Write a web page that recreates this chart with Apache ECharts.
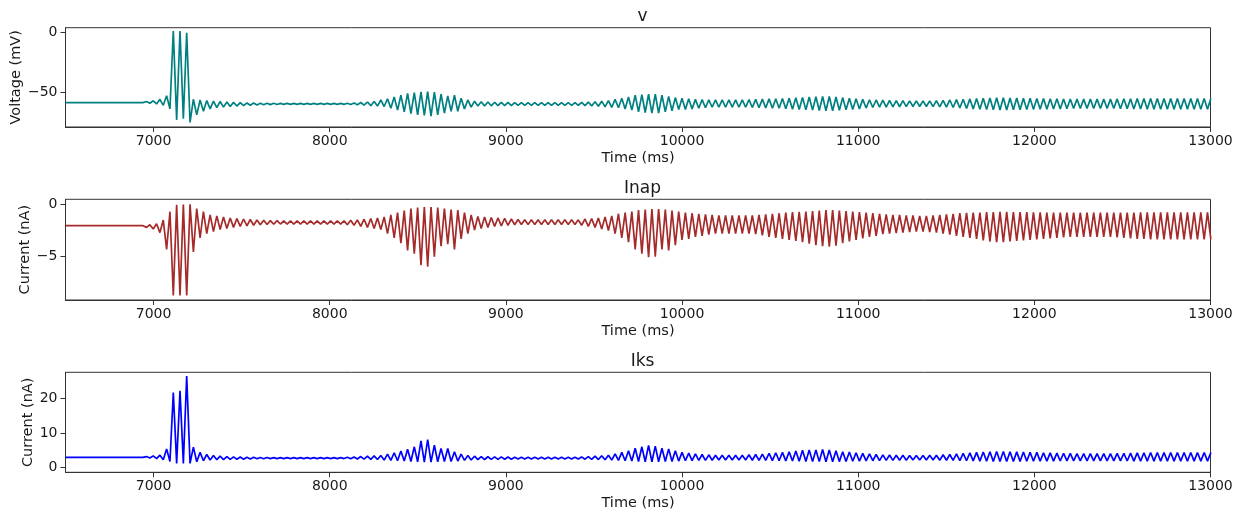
<!DOCTYPE html>
<html>
<head>
<meta charset="utf-8">
<title>v / Inap / Iks</title>
<script src="https://cdn.jsdelivr.net/npm/echarts@6/dist/echarts.min.js"></script>
<style>
  html, body { margin: 0; padding: 0; background: #fff; }
  #main { width: 1247px; height: 514px; }
</style>
</head>
<body>
<div id="main"></div>
<script>
// sample times (ms): baseline, then alternating extrema (~19 ms apart)
var timeMs = [6500, 6940,
  6960,6979,6998,7017,7036,7055,7074,7093,7112,7131,
  7150,7169,7188,7207,7226,7245,7264,7283,7302,7321,
  7340,7359,7378,7397,7416,7435,7454,7473,7492,7511,
  7530,7549,7568,7587,7606,7625,7644,7663,7682,7701,
  7720,7739,7758,7777,7796,7815,7834,7853,7872,7891,
  7910,7929,7948,7967,7986,8005,8024,8043,8062,8081,
  8100,8119,8138,8157,8176,8195,8214,8233,8252,8271,
  8290,8309,8328,8347,8366,8385,8404,8423,8442,8461,
  8480,8499,8518,8537,8556,8575,8594,8613,8632,8651,
  8670,8689,8708,8727,8746,8765,8784,8803,8822,8841,
  8860,8879,8898,8917,8936,8955,8974,8993,9012,9031,
  9050,9069,9088,9107,9126,9145,9164,9183,9202,9221,
  9240,9259,9278,9297,9316,9335,9354,9373,9392,9411,
  9430,9449,9468,9487,9506,9525,9544,9563,9582,9601,
  9620,9639,9658,9677,9696,9715,9734,9753,9772,9791,
  9810,9829,9848,9867,9886,9905,9924,9943,9962,9981,
  10000,10019,10038,10057,10076,10095,10114,10133,10152,10171,
  10190,10209,10228,10247,10266,10285,10304,10323,10342,10361,
  10380,10399,10418,10437,10456,10475,10494,10513,10532,10551,
  10570,10589,10608,10627,10646,10665,10684,10703,10722,10741,
  10760,10779,10798,10817,10836,10855,10874,10893,10912,10931,
  10950,10969,10988,11007,11026,11045,11064,11083,11102,11121,
  11140,11159,11178,11197,11216,11235,11254,11273,11292,11311,
  11330,11349,11368,11387,11406,11425,11444,11463,11482,11501,
  11520,11539,11558,11577,11596,11615,11634,11653,11672,11691,
  11710,11729,11748,11767,11786,11805,11824,11843,11862,11881,
  11900,11919,11938,11957,11976,11995,12014,12033,12052,12071,
  12090,12109,12128,12147,12166,12185,12204,12223,12242,12261,
  12280,12299,12318,12337,12356,12375,12394,12413,12432,12451,
  12470,12489,12508,12527,12546,12565,12584,12603,12622,12641,
  12660,12679,12698,12717,12736,12755,12774,12793,12812,12831,
  12850,12869,12888,12907,12926,12945,12964,12983,13002];

// membrane voltage (mV)
var vData = [-58.7, -58.7,
  -57.8,-59.2,-57.2,-59.8,-56.0,-61.0,-53.0,-64.0,1.4,-73.2,
  1.4,-72.3,0.0,-75.4,-55.9,-69.0,-56.5,-66.0,-57.0,-64.0,
  -57.5,-63.0,-57.8,-62.5,-58.2,-62.0,-58.5,-61.6,-58.7,-61.3,
  -59.0,-60.9,-59.1,-60.7,-59.2,-60.5,-59.3,-60.4,-59.3,-60.3,
  -59.4,-60.2,-59.4,-60.2,-59.4,-60.2,-59.4,-60.2,-59.4,-60.2,
  -59.4,-60.2,-59.4,-60.2,-59.4,-60.2,-59.4,-60.2,-59.4,-60.2,
  -59.3,-60.3,-59.0,-60.6,-58.6,-60.9,-58.2,-61.3,-57.8,-61.6,
  -56.5,-62.0,-55.5,-63.5,-54.0,-65.0,-52.5,-66.5,-51.0,-68.0,
  -50.3,-69.0,-49.6,-69.5,-49.4,-70.0,-50.0,-69.0,-51.5,-67.5,
  -53.0,-66.0,-52.5,-66.0,-55.0,-64.0,-56.5,-62.5,-57.5,-61.5,
  -58.0,-61.5,-58.2,-61.4,-58.4,-61.3,-58.5,-61.2,-58.6,-61.2,
  -58.7,-61.1,-58.7,-61.1,-58.7,-61.1,-58.7,-61.1,-58.7,-61.1,
  -58.7,-61.1,-58.7,-61.1,-58.7,-61.1,-58.7,-61.1,-58.7,-61.1,
  -58.5,-61.3,-58.3,-61.5,-58.0,-61.8,-57.5,-62.3,-57.0,-62.8,
  -56.0,-63.0,-55.0,-64.0,-54.0,-65.0,-52.5,-66.5,-52.0,-67.0,
  -51.7,-67.6,-51.7,-67.5,-52.5,-66.5,-53.5,-65.5,-54.5,-64.5,
  -55.0,-64.5,-55.5,-64.0,-56.0,-63.5,-56.2,-63.0,-56.4,-62.6,
  -56.4,-62.6,-56.4,-62.6,-56.4,-62.6,-56.4,-62.6,-56.4,-62.6,
  -56.2,-62.8,-56.0,-63.0,-55.8,-63.2,-55.6,-63.4,-55.5,-63.5,
  -55.3,-63.8,-55.0,-64.2,-54.7,-64.5,-54.4,-64.8,-54.0,-65.0,
  -53.8,-65.3,-53.6,-65.6,-53.6,-65.6,-54.0,-65.2,-54.5,-64.8,
  -55.0,-64.5,-55.5,-64.0,-56.0,-63.3,-56.3,-62.8,-56.5,-62.5,
  -56.6,-62.5,-56.8,-62.3,-57.0,-62.2,-57.1,-62.1,-57.2,-62.0,
  -57.3,-62.0,-57.3,-62.0,-57.2,-62.1,-57.0,-62.3,-56.8,-62.5,
  -56.5,-62.8,-56.2,-63.2,-55.9,-63.6,-55.6,-64.0,-55.3,-64.3,
  -55.0,-64.6,-54.8,-64.8,-54.7,-64.9,-54.7,-64.9,-54.8,-64.8,
  -54.9,-64.7,-55.0,-64.6,-55.1,-64.4,-55.2,-64.3,-55.3,-64.2,
  -55.4,-64.1,-55.5,-64.0,-55.6,-63.8,-55.7,-63.7,-55.8,-63.6,
  -55.8,-63.6,-55.8,-63.6,-55.8,-63.6,-55.8,-63.6,-55.8,-63.6,
  -55.6,-63.8,-55.5,-63.9,-55.4,-64.0,-55.3,-64.1,-55.3,-64.2,
  -55.2,-64.3,-55.2,-64.3,-55.2,-64.3,-55.2,-64.3,-55.2,-64.3,
  -55.2,-64.3,-55.2,-64.3,-55.2,-64.3,-55.2,-64.3,-55.2];

// persistent sodium current (nA)
var inapData = [-2.04, -2.04,
  -2.2,-1.95,-2.35,-1.85,-2.7,-1.5,-4.3,-0.7,-8.7,-0.05,
  -8.7,-0.03,-8.7,0.0,-4.55,-0.4,-3.2,-0.7,-2.8,-1.0,
  -2.6,-1.1,-2.4,-1.2,-2.3,-1.3,-2.2,-1.35,-2.1,-1.4,
  -2.05,-1.45,-2.0,-1.5,-1.95,-1.52,-1.92,-1.55,-1.9,-1.55,
  -1.88,-1.58,-1.88,-1.58,-1.88,-1.58,-1.88,-1.58,-1.88,-1.58,
  -1.88,-1.58,-1.88,-1.58,-1.88,-1.58,-1.88,-1.58,-1.88,-1.58,
  -1.95,-1.52,-2.0,-1.48,-2.1,-1.42,-2.2,-1.36,-2.3,-1.3,
  -2.4,-1.2,-2.8,-1.0,-3.2,-0.8,-3.7,-0.6,-4.4,-0.4,
  -4.7,-0.3,-5.8,-0.25,-5.95,-0.25,-5.0,-0.3,-4.0,-0.4,
  -3.8,-0.5,-4.3,-0.55,-3.3,-0.8,-2.8,-1.0,-2.45,-1.15,
  -2.3,-1.2,-2.2,-1.25,-2.1,-1.3,-2.05,-1.35,-2.0,-1.4,
  -1.95,-1.45,-1.93,-1.47,-1.92,-1.48,-1.92,-1.48,-1.92,-1.48,
  -1.92,-1.48,-1.92,-1.48,-1.92,-1.48,-1.92,-1.48,-1.92,-1.48,
  -2.0,-1.4,-2.1,-1.35,-2.2,-1.3,-2.35,-1.2,-2.5,-1.1,
  -2.8,-0.9,-3.2,-0.8,-3.6,-0.7,-4.3,-0.55,-4.7,-0.5,
  -5.05,-0.45,-5.0,-0.45,-4.3,-0.5,-4.4,-0.6,-3.9,-0.7,
  -3.4,-0.8,-3.3,-0.85,-3.1,-0.9,-3.0,-0.95,-2.9,-1.0,
  -2.8,-1.05,-2.8,-1.05,-2.8,-1.05,-2.8,-1.05,-2.8,-1.05,
  -2.8,-1.05,-2.85,-1.0,-2.95,-0.95,-3.1,-0.9,-3.2,-0.85,
  -3.3,-0.8,-3.4,-0.75,-3.5,-0.72,-3.6,-0.7,-3.75,-0.65,
  -3.9,-0.6,-4.0,-0.55,-4.05,-0.55,-3.95,-0.6,-3.7,-0.65,
  -3.55,-0.7,-3.4,-0.75,-3.25,-0.8,-3.1,-0.85,-3.0,-0.9,
  -2.85,-0.95,-2.8,-1.0,-2.75,-1.0,-2.7,-1.05,-2.65,-1.05,
  -2.6,-1.1,-2.6,-1.1,-2.65,-1.05,-2.7,-1.0,-2.8,-0.95,
  -2.9,-0.9,-3.0,-0.85,-3.1,-0.82,-3.2,-0.8,-3.3,-0.78,
  -3.45,-0.75,-3.55,-0.73,-3.6,-0.72,-3.6,-0.72,-3.55,-0.73,
  -3.5,-0.74,-3.45,-0.75,-3.4,-0.76,-3.35,-0.77,-3.3,-0.78,
  -3.25,-0.8,-3.2,-0.8,-3.15,-0.8,-3.1,-0.8,-3.1,-0.8,
  -3.1,-0.8,-3.1,-0.8,-3.1,-0.8,-3.1,-0.8,-3.1,-0.8,
  -3.15,-0.8,-3.2,-0.79,-3.25,-0.78,-3.3,-0.77,-3.3,-0.76,
  -3.35,-0.76,-3.35,-0.76,-3.35,-0.76,-3.35,-0.76,-3.35,-0.76,
  -3.35,-0.76,-3.35,-0.76,-3.35,-0.76,-3.35,-0.76,-3.35];

// slow potassium current (nA)
var iksData = [2.97, 2.97,
  3.2,2.8,3.4,2.6,3.6,2.3,5.4,1.8,21.6,1.25,
  22.1,1.25,26.3,1.25,5.9,1.7,4.4,2.0,3.8,2.2,
  3.5,2.3,3.3,2.35,3.2,2.4,3.1,2.45,3.05,2.45,
  3.0,2.5,3.0,2.55,2.95,2.55,2.95,2.6,2.9,2.6,
  2.9,2.62,2.9,2.62,2.9,2.62,2.9,2.62,2.9,2.62,
  2.9,2.62,2.9,2.62,2.9,2.62,2.9,2.62,2.9,2.62,
  3.0,2.55,3.1,2.5,3.2,2.45,3.3,2.4,3.4,2.35,
  3.5,2.2,3.9,2.1,4.3,2.0,4.8,1.9,5.3,1.8,
  6.0,1.7,7.7,1.6,8.1,1.6,6.5,1.7,5.5,1.8,
  5.5,1.8,4.6,1.9,3.9,2.1,3.5,2.2,3.3,2.3,
  3.2,2.35,3.15,2.4,3.1,2.4,3.1,2.45,3.05,2.45,
  3.0,2.5,3.0,2.5,3.0,2.5,3.0,2.5,3.0,2.5,
  3.0,2.5,3.0,2.5,3.0,2.5,3.0,2.5,3.0,2.5,
  3.1,2.45,3.2,2.4,3.3,2.35,3.45,2.3,3.6,2.2,
  4.0,2.1,4.4,2.0,4.9,1.9,5.6,1.8,6.0,1.7,
  6.4,1.7,6.2,1.7,5.6,1.8,5.4,1.8,4.9,1.9,
  4.4,2.0,4.2,2.05,4.0,2.1,3.8,2.1,3.7,2.15,
  3.6,2.2,3.6,2.2,3.6,2.2,3.6,2.2,3.6,2.2,
  3.7,2.15,3.8,2.1,3.9,2.1,4.1,2.05,4.3,2.0,
  4.4,1.95,4.6,1.9,4.8,1.85,5.0,1.8,5.1,1.75,
  5.1,1.75,5.2,1.7,5.1,1.7,4.9,1.75,4.6,1.8,
  4.5,1.85,4.3,1.9,4.1,1.95,3.95,2.0,3.8,2.05,
  3.7,2.1,3.65,2.1,3.6,2.15,3.55,2.15,3.5,2.2,
  3.5,2.2,3.5,2.2,3.55,2.2,3.6,2.15,3.7,2.15,
  3.8,2.1,3.95,2.05,4.1,2.0,4.25,1.95,4.4,1.9,
  4.5,1.85,4.6,1.8,4.65,1.8,4.65,1.8,4.6,1.8,
  4.55,1.82,4.5,1.84,4.45,1.86,4.4,1.88,4.3,1.9,
  4.25,1.9,4.2,1.92,4.15,1.94,4.1,1.95,4.05,1.95,
  4.05,1.95,4.05,1.95,4.05,1.95,4.05,1.95,4.05,1.95,
  4.1,1.94,4.15,1.92,4.2,1.9,4.25,1.9,4.3,1.9,
  4.35,1.88,4.35,1.88,4.35,1.88,4.35,1.88,4.35,1.88,
  4.35,1.88,4.35,1.88,4.35,1.88,4.35,1.88,4.35];

var titles = ['v', 'Inap', 'Iks'];
var yNames = ['Voltage (mV)', 'Current (nA)', 'Current (nA)'];
var yTicks = [[-50, 0], [-5, 0], [0, 10, 20]];
var xTicks = [7000, 8000, 9000, 10000, 11000, 12000, 13000];

var font = 'DejaVu Sans';
var ink = '#1a1a1a';

var myChart = echarts.init(document.getElementById('main'), null, { renderer: 'canvas' });

function pairs(vals) {
  var out = [];
  for (var i = 0; i < vals.length; i++) out.push([timeMs[i], vals[i]]);
  return out;
}

// panel geometry: [top, height, yMin, yMax, nameGap, color, data]
var panels = [
  [27.7, 99.3, -79.2, 4.2, 42, '#008080', vData],
  [199.3, 100.7, -9.13, 0.48, 33, '#a52a2a', inapData],
  [372.3, 100, -1.32, 27.4, 30, '#0000ff', iksData]
];

var option = {
  animation: false,
  backgroundColor: '#fff',
  title: [], grid: [], xAxis: [], yAxis: [], series: []
};

panels.forEach(function (p, k) {
  option.title.push({
    text: titles[k], left: 637.5, top: p[0] - 24.5, textAlign: 'center',
    textStyle: { fontFamily: font, fontSize: 17, fontWeight: 'normal', color: ink }
  });
  option.grid.push({
    left: 65.5, right: 36.5, top: p[0], height: p[1],
    outerBoundsMode: 'none', containLabel: false,
    show: true, borderColor: '#333', borderWidth: 1, backgroundColor: 'transparent'
  });
  option.xAxis.push({
    type: 'value', gridIndex: k, min: 6500, max: 13000,
    name: 'Time (ms)', nameLocation: 'middle', nameGap: 23.5, nameMoveOverlap: false,
    nameTextStyle: { fontFamily: font, fontSize: 14.5, color: ink },
    axisLine: { show: true, onZero: false, lineStyle: { color: '#333' } },
    axisTick: { show: true, length: 5, customValues: xTicks, lineStyle: { color: '#333' } },
    axisLabel: {
      customValues: xTicks, margin: 7, fontFamily: font, fontSize: 14, color: ink,
      formatter: function (val) { return String(val); }
    },
    splitLine: { show: false }
  });
  option.yAxis.push({
    type: 'value', gridIndex: k, min: p[2], max: p[3],
    name: yNames[k], nameLocation: 'middle', nameGap: p[4], nameRotate: 90,
    nameMoveOverlap: false,
    nameTextStyle: { fontFamily: font, fontSize: 14.5, color: ink },
    axisLine: { show: true, onZero: false, lineStyle: { color: '#333' } },
    axisTick: { show: true, length: 5, customValues: yTicks[k], lineStyle: { color: '#333' } },
    axisLabel: {
      customValues: yTicks[k], margin: 8, fontFamily: font, fontSize: 14, color: ink,
      formatter: function (val) { return String(val).replace('-', '\u2212'); }
    },
    splitLine: { show: false }
  });
  option.series.push({
    type: 'line', xAxisIndex: k, yAxisIndex: k,
    showSymbol: false, clip: true,
    lineStyle: { color: p[5], width: 1.7 },
    data: pairs(p[6])
  });
});

myChart.setOption(option);
</script>
</body>
</html>
